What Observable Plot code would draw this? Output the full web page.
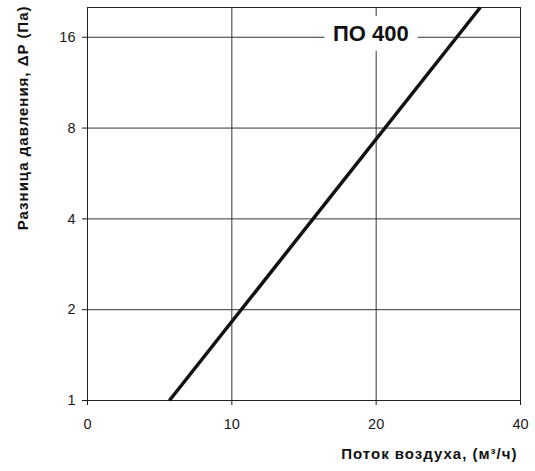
<!DOCTYPE html>
<html>
<head>
<meta charset="utf-8">
<script src="https://cdn.jsdelivr.net/npm/d3@7"></script>
<script src="https://cdn.jsdelivr.net/npm/@observablehq/plot@0.6"></script>
<style>
  html, body { margin: 0; padding: 0; background: #fff; }
  .axis-title text { letter-spacing: 1px; }
</style>
</head>
<body>
<div id="chart"></div>
<script>
// X axis: tick positions (equally spaced, log base 2) and their printed labels
const xTickValues = [5, 10, 20, 40];
const xTickLabels = ["0", "10", "20", "40"];
// Y axis: pressure ticks (log base 2)
const yTickValues = [1, 2, 4, 8, 16];
// Curve ПО 400: flow (m³/h) vs pressure drop (Pa)
const flow = [7.41, 32.97];
const pressure = [1, 20.08];
const seriesName = "ПО 400";
const seriesLabelFlow = [19.5];
const seriesLabelPressure = [16];
const xTitle = "Поток воздуха, (м³/ч)";
const yTitle = "Разница давления, \u0394P (Па)";

const curve = flow.map((f, i) => ({flow: f, dp: pressure[i]}));
const labelData = [{flow: seriesLabelFlow[0], dp: seriesLabelPressure[0], name: seriesName}];

const chart = Plot.plot({
  width: 535,
  height: 471,
  marginLeft: 87,
  marginRight: 15,
  marginTop: 7,
  marginBottom: 71,
  style: {fontFamily: "'Liberation Sans', Arial, sans-serif", fontSize: "14.5px", color: "#1a1a1a", background: "#fff"},
  x: {type: "log", base: 2, domain: [5, 40], ticks: xTickValues,
      tickFormat: d => xTickLabels[xTickValues.indexOf(d)], label: null, tickSize: 5, tickPadding: 13},
  y: {type: "log", base: 2, domain: [1, 20.08], ticks: yTickValues,
      tickFormat: d => String(d), label: null, tickSize: 5, tickPadding: 7},
  marks: [
    Plot.gridX(xTickValues, {stroke: "#333", strokeOpacity: 1, strokeWidth: 1}),
    Plot.gridY(yTickValues, {stroke: "#333", strokeOpacity: 1, strokeWidth: 1}),
    Plot.frame({stroke: "#222", strokeWidth: 1}),
    Plot.line(curve, {x: "flow", y: "dp", stroke: "#111", strokeWidth: 3.5, strokeLinecap: "butt"}),
    Plot.text(labelData, {x: "flow", y: "dp", text: "name", fontSize: 22, fontWeight: "bold",
      fill: "#111", stroke: "white", strokeWidth: 20, strokeLinejoin: "miter", dy: -3.5}),
    Plot.text([xTitle], {frameAnchor: "bottom-right", textAnchor: "end", lineAnchor: "middle",
      dx: -3, dy: 54, fontWeight: "bold", fontSize: 15, fill: "#111", className: "axis-title"}),
    Plot.text([yTitle], {frameAnchor: "top-left", textAnchor: "end", lineAnchor: "middle",
      rotate: -90, dx: -64.5, dy: -2, fontWeight: "bold", fontSize: 15, fill: "#111", className: "axis-title"})
  ]
});
document.getElementById("chart").appendChild(chart);
</script>
</body>
</html>
